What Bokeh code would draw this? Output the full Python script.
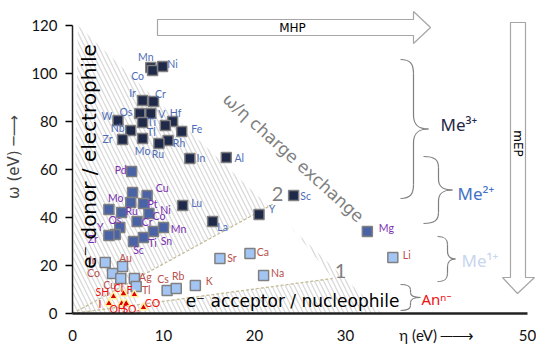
import math
from bokeh.plotting import figure
from bokeh.models import Range1d, FixedTicker, Label, ColumnDataSource
from bokeh.core.properties import value
from bokeh.embed import file_html
from bokeh.resources import INLINE

# ---------------- data (eta = hardness, omega = electrophilicity, eV) -------------
ME3_NAMES = ["Mn", "Co", "Ni", "Ir", "Cr", "Os", "V", "W", "Ti", "Hf", "Tl", "Nb",
             "Fe", "Mo", "Zr", "Rh", "Ru", "In", "Al", "Lu", "La", "Y", "Sc"]
ME3_ETA = [8.6, 8.8, 9.9, 7.7, 8.9, 7.4, 8.6, 5.0, 7.7, 11.0, 10.2, 6.4,
           12.0, 7.7, 5.5, 10.5, 9.5, 12.9, 16.9, 12.1, 15.4, 20.5, 24.3]
ME3_OMEGA = [102.5, 101.3, 102.9, 88.8, 88.3, 83.3, 83.3, 80.4, 79.6, 80.0, 78.3, 76.3,
             75.8, 72.9, 72.5, 72.1, 70.8, 64.6, 65.0, 45.0, 38.3, 41.3, 49.2]

ME2_NAMES = ["Pd", "Ni", "Cu", "Mo", "Pt", "", "Ru", "Co", "Cr", "Os", "Y", "Zr",
             "Sn", "Mn", "Ti", "Sc", "Mg"]
ME2_ETA = [6.5, 6.6, 8.2, 6.4, 7.8, 4.0, 5.4, 8.4, 7.1, 5.2, 4.7, 4.0,
           8.9, 10.0, 7.8, 6.7, 32.4]
ME2_OMEGA = [59.2, 50.4, 49.2, 46.3, 45.8, 43.3, 42.1, 41.7, 38.3, 35.8, 32.9, 32.5,
             34.2, 35.8, 31.7, 30.0, 34.2]

ME1_NAMES = ["Ir", "Au", "Co", "Cu", "Ag", "Tl", "Cs", "Rb", "K", "Sr", "Ca", "Na", "Li"]
ME1_ETA = [3.6, 5.5, 4.4, 5.3, 6.8, 7.0, 10.4, 11.4, 13.5, 16.2, 19.5, 21.0, 35.2]
ME1_OMEGA = [21.3, 19.6, 16.7, 14.6, 14.6, 11.3, 9.6, 10.4, 11.7, 22.9, 25.0, 15.8, 23.3]

AN_NAMES = ["SH", "Cl", "F", "I", "OH", "SO₃", "CO"]
AN_ETA = [4.5, 5.6, 6.8, 4.0, 5.4, 5.9, 7.8]
AN_OMEGA = [7.1, 8.3, 7.9, 4.2, 4.2, 4.2, 2.5]

X_TICKS = [0, 10, 20, 30, 40, 50]
X_TICK_LABELS = {40: "η (eV) ─⟶"}
Y_TICKS = [0, 20, 40, 60, 80, 100, 120]

# label offsets (screen px, x right / y down) -- styling only
ME3_OFF = [(-5, -11), (-15, 6), (10, -3), (-10, -7), (7, -8), (-14, -2), (11, 0), (-11, -5),
           (9, 0), (3, -9), (-14, 6), (-13, -2), (15, -3), (0, 12), (-15, -1), (11, 3),
           (-1, 10), (11, 0), (13, 0), (14, -3), (10, 5), (13, -5), (12, 1)]
ME2_OFF = [(-11, -1), (33, 17), (15, -7), (-15, -4), (9, 0), (0, 0), (10, -1), (10, 3),
           (10, 0), (-5, -8), (-15, -8), (-16, 3), (13, 10), (15, 1), (9, 6), (5, 8), (19, -3)]
ME1_OFF = [(-13, -2), (3, -8), (-19, 0), (-11, 7), (11, -1), (10, 4), (-4, -11), (2, -13),
           (14, -4), (12, -1), (13, -2), (14, -3), (14, -3)]
AN_OFF = [(-11, -4), (-5, -6), (-5, -5), (-9, 1), (-4, 6), (5, 6), (9, -5)]

# ---------------- geometry helpers (screen px -> data) ----------------
SX, SY = 9.1, 2.4          # px per eV
FX0, FY0 = 72, 313         # screen position of data origin
W, H = 536, 346


def ex(px):
    return (px - FX0) / SX


def oy(py):
    return (FY0 - py) / SY


p = figure(width=W, height=H, output_backend="svg", toolbar_location=None,
           x_range=Range1d(0, (W - FX0) / SX), y_range=Range1d(0, FY0 / SY),
           min_border_left=FX0, min_border_right=0, min_border_top=0,
           min_border_bottom=H - FY0)
p.outline_line_color = None
p.grid.visible = False
p.background_fill_color = "white"

# hatched region and white wedge
p.patch([0, 0.6, 34], [0, 120, 0], fill_color="white", line_color=None,
        hatch_pattern="\\", hatch_color="#dadada", hatch_scale=9, hatch_weight=1.3)
p.patch([7, 22, 28.6, 7], [14.5, 45.5, 14.6, 3.6], fill_color="white", line_color=None)

# dashed guide lines
p.line([0, 22], [0, 45.5], line_color="#c4bd97", line_dash="3 2", line_width=1.3)
p.line([0, 28.6], [0, 14.6], line_color="#c4bd97", line_dash="3 2", line_width=1.3)


def group(names, eta, om, off, marker, fill, size, lcolor, lsize, line="#808080"):
    src = ColumnDataSource(dict(x=eta, y=om))
    p.scatter("x", "y", source=src, marker=marker, size=size, fill_color=fill,
              line_color=line, line_width=1.5)
    lx = [e + d[0] / SX for e, d in zip(eta, off)]
    ly = [o - d[1] / SY for o, d in zip(om, off)]
    p.text(x=lx, y=ly, text=names, text_font=value("Lato"), text_font_size=lsize,
           text_color=lcolor, text_align="center", text_baseline="middle")


group(ME1_NAMES, ME1_ETA, ME1_OMEGA, ME1_OFF, "square", "#a3c5f4", 10, "#b8504c", "10.5px")
group(ME2_NAMES, ME2_ETA, ME2_OMEGA, ME2_OFF, "square", "#4a63a6", 10, "#7a2fb0", "10.5px")
group(ME3_NAMES, ME3_ETA, ME3_OMEGA, ME3_OFF, "square", "#1f2949", 10, "#4f6db5", "10.5px")
group(AN_NAMES, AN_ETA, AN_OMEGA, AN_OFF, "triangle", "#e00000", 8, "#ee1111", "10.5px",
      line="#fff0a0")

# axes
p.xaxis.ticker = FixedTicker(ticks=X_TICKS)
p.xaxis.major_label_overrides = X_TICK_LABELS
p.yaxis.ticker = FixedTicker(ticks=Y_TICKS)
p.xaxis.bounds = (0, 50)
p.yaxis.bounds = (0, 120)
for ax in (p.xaxis, p.yaxis):
    ax.major_label_text_font = "Lato"
    ax.major_label_text_font_size = "15px"
    ax.major_label_text_color = "#111111"
    ax.minor_tick_line_color = None
    ax.axis_line_color = "#222222"
p.xaxis.axis_line_width = 2.5
p.yaxis.axis_line_width = 1.5
p.xaxis.major_tick_out = 0
p.xaxis.major_tick_in = 0
p.xaxis.major_label_standoff = 12
p.yaxis.major_tick_out = 7
p.yaxis.major_tick_in = 0
p.yaxis.major_tick_line_width = 1.5
p.yaxis.major_label_standoff = 8
p.yaxis.axis_label = "ω (eV) ─⟶"
p.yaxis.axis_label_text_font = "DejaVu Sans"
p.yaxis.axis_label_text_font_style = "normal"
p.yaxis.axis_label_text_font_size = "15px"
p.yaxis.axis_label_standoff = 5


def label(text, px, py, size, color="black", angle=0.0, font="DejaVu Sans", align="center"):
    p.add_layout(Label(x=ex(px), y=oy(py), text=text, text_font=font, text_font_size=size,
                       text_color=color, angle=angle, text_align=align,
                       text_baseline="middle"))


label("e⁻ donor / electrophile", 88, 156, "20px", angle=math.pi / 2)
label("e⁻ acceptor / nucleophile", 292, 300, "17px")
label("ω/η charge exchange", 293, 157, "17px", color="#7f7f7f", angle=-0.735)
label("2", 277, 193, "20px", color="#7f7f7f", font="Lato")
label("1", 340, 270, "20px", color="#7f7f7f", font="Lato")

# MHP arrow
mx = [157, 413, 413, 430, 413, 413, 157]
my = [19, 19, 11, 27, 43, 35, 35]
p.patch([ex(v) for v in mx], [oy(v) for v in my], fill_color="white",
        line_color="#a6a6a6", line_width=1.2)
label("MHP", 292, 27, "12px", font="DejaVu Sans")

# mEP arrow
vx = [510, 525, 525, 534, 517, 502, 510]
vy = [22, 22, 277, 277, 293, 277, 277]
p.patch([ex(v) for v in vx], [oy(v) for v in vy], fill_color="white",
        line_color="#a6a6a6", line_width=1.2)
label("mEP", 517, 143, "12px", angle=-math.pi / 2)


# curly braces
def brace(xl, yt, yb, xs, xt, r):
    ym = (yt + yb) / 2
    segs = [
        ((xl, yt), (xl + (xs - xl) * 0.75, yt), (xs, yt + r * 0.3), (xs, yt + r)),
        ((xs, ym - r), (xs, ym - r * 0.3), (xs + (xt - xs) * 0.3, ym), (xt, ym)),
        ((xt, ym), (xs + (xt - xs) * 0.3, ym), (xs, ym + r * 0.3), (xs, ym + r)),
        ((xs, yb - r), (xs, yb - r * 0.3), (xl + (xs - xl) * 0.75, yb), (xl, yb)),
    ]
    p.bezier(x0=[ex(s[0][0]) for s in segs], y0=[oy(s[0][1]) for s in segs],
             cx0=[ex(s[1][0]) for s in segs], cy0=[oy(s[1][1]) for s in segs],
             cx1=[ex(s[2][0]) for s in segs], cy1=[oy(s[2][1]) for s in segs],
             x1=[ex(s[3][0]) for s in segs], y1=[oy(s[3][1]) for s in segs],
             line_color="#7f7f7f", line_width=1.2)
    p.segment(x0=[ex(xs), ex(xs)], y0=[oy(yt + r), oy(ym + r)],
              x1=[ex(xs), ex(xs)], y1=[oy(ym - r), oy(yb - r)],
              line_color="#7f7f7f", line_width=1.2)


brace(400, 59, 198, 413, 428, 14)
brace(423, 156, 223, 438, 452, 11)
brace(437, 236, 281, 447, 455, 8)
brace(400, 284, 310, 410, 420, 5)

label("Me³⁺", 440, 124, "17px", color="#1f2949", font="Noto Sans", align="left")
label("Me²⁺", 457, 193, "17px", color="#4472c4", font="Noto Sans", align="left")
label("Me¹⁺", 461, 260, "17px", color="#c8d6ee", font="Noto Sans", align="left")
label("Anⁿ⁻", 421, 298, "15px", color="#ee1111", font="Noto Sans", align="left")

open("out.html", "w").write(file_html(p, INLINE))
